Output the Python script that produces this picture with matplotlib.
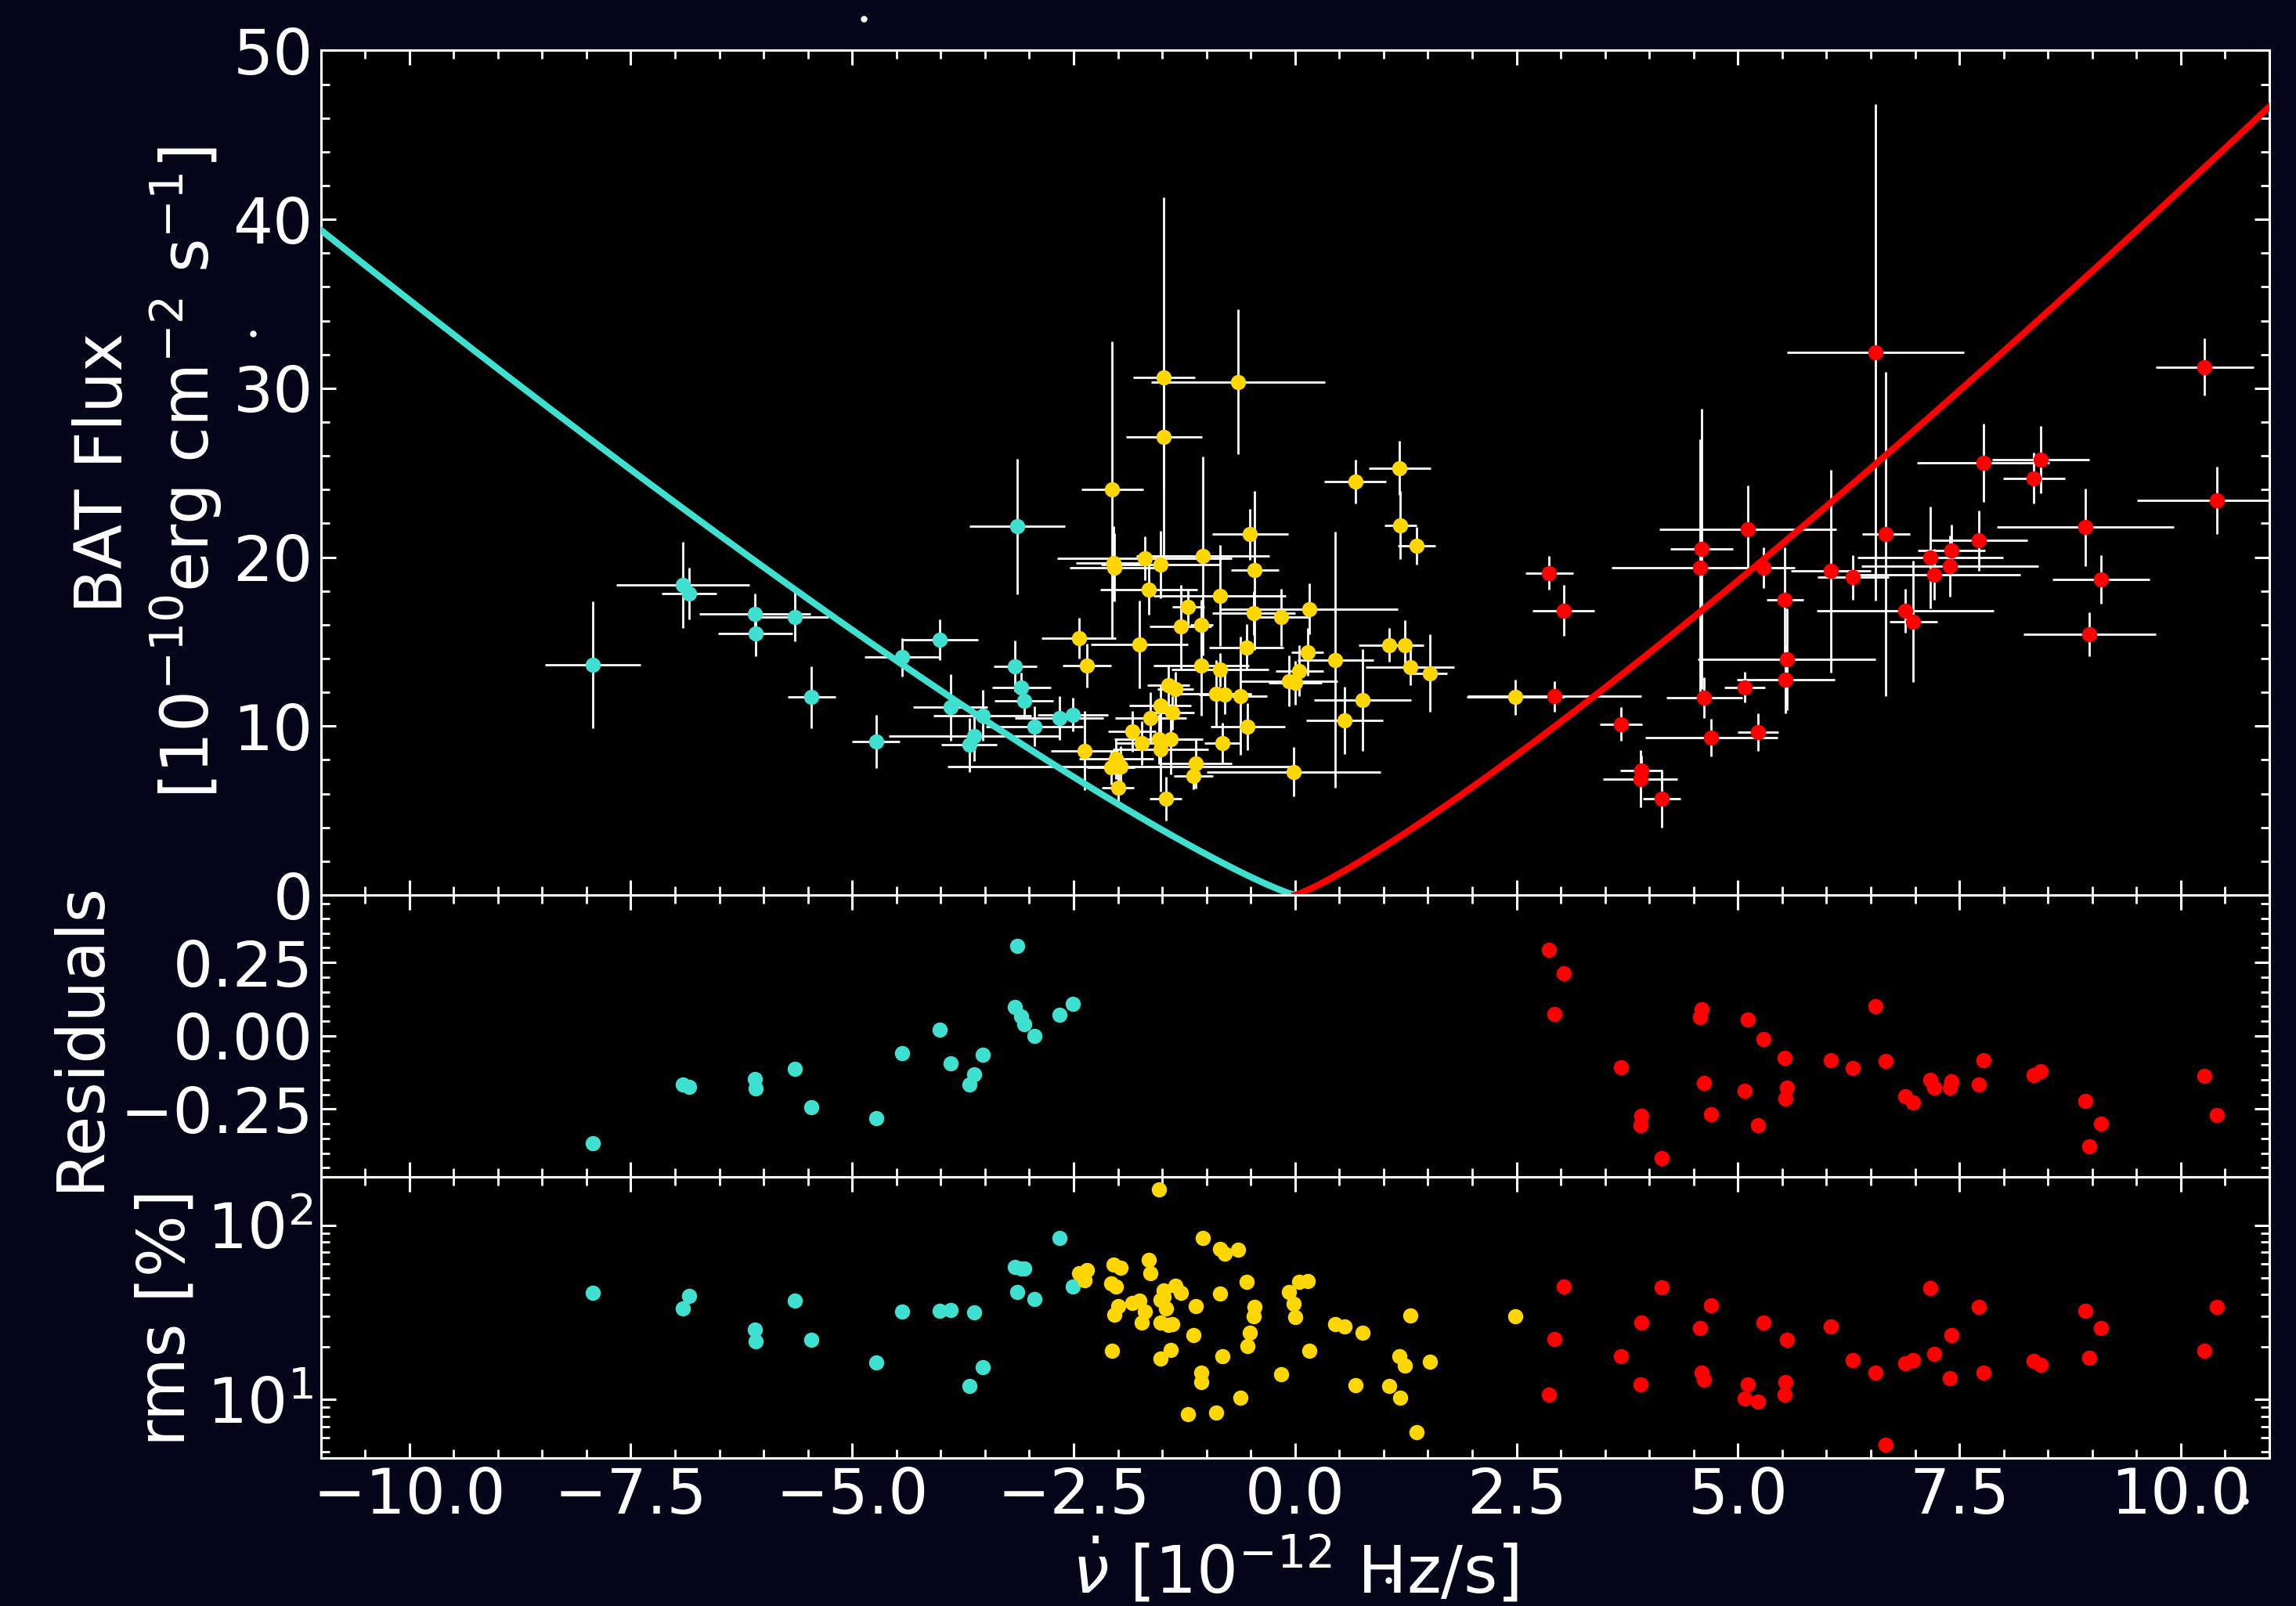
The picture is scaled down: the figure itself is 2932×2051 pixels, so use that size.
import numpy as np
import matplotlib
matplotlib.use('Agg')
import matplotlib.pyplot as plt
from matplotlib.ticker import AutoMinorLocator
from matplotlib.lines import Line2D

# spin-down branch (turquoise)
cyan_x = [-7.93, -6.91, -6.84, -6.10, -6.09, -5.65, -5.46, -4.73, -4.44, -4.01, -3.89,
          -3.68, -3.62, -3.53, -3.14, -3.16, -3.09, -3.06, -2.94, -2.66, -2.51]
cyan_y = [13.62, 18.38, 17.87, 16.65, 15.49, 16.48, 11.72, 9.10, 14.07, 15.12, 11.11,
          8.90, 9.41, 10.63, 21.82, 13.55, 12.27, 11.48, 9.99, 10.46, 10.67]
cyan_xerr = [0.54, 0.75, 0.31, 0.63, 0.42, 0.38, 0.27, 0.27, 0.42, 0.43, 0.42,
             0.31, 0.97, 0.55, 0.54, 0.24, 0.33, 0.33, 0.55, 0.50, 0.40]
cyan_yerr = [3.75, 2.55, 1.53, 1.20, 1.36, 1.45, 1.84, 1.58, 1.12, 1.19, 1.96,
             1.60, 1.50, 1.50, 4.00, 1.50, 0.90, 1.00, 1.20, 1.30, 1.00]
cyan_res = [-0.367, -0.167, -0.175, -0.147, -0.180, -0.114, -0.244, -0.280, -0.060, 0.022, -0.095,
            -0.165, -0.132, -0.065, 0.306, 0.098, 0.065, 0.040, 0.000, 0.071, 0.108]
cyan_rms = [40.8, 33.2, 39.2, 25.2, 21.6, 36.8, 22.0, 16.2, 31.8, 32.1, 32.6,
            11.9, 31.5, 15.3, 41.5, 57.7, 56.2, 56.2, 37.7, 84.5, 44.4]

# transition region (gold)
gold_x = [-1.48, -0.645, -1.48, -2.065, 0.68, 1.18, 1.19, 1.37, -0.507, -1.70,
          -2.05, -2.04, -1.52, -1.04, -0.455, -1.65, -0.85, -1.205, -0.465, -0.16,
          0.157, -1.29, -1.055, -2.44, -1.756, -0.55, 0.14, 0.457, 1.065, 1.24,
          1.30, 1.52, -2.35, -1.06, -0.845, 0.05, -1.43, -1.35, -0.07, 0.0,
          -0.895, -0.79, -0.62, 0.76, 0.56, -1.52, -1.63, -1.39, -1.84, -0.536,
          -2.38, -2.02, -2.08, -1.97, -2.0, -1.73, -1.54, -1.40, -1.52, -1.46,
          -1.117, -1.148, -0.82, -0.017, 2.49]
gold_y = [30.62, 30.38, 27.12, 23.99, 24.48, 25.28, 21.90, 20.68, 21.36, 19.93,
          19.65, 19.40, 19.55, 20.08, 19.23, 18.10, 17.72, 17.04, 16.70, 16.44,
          16.93, 15.88, 15.98, 15.21, 14.84, 14.67, 14.39, 13.93, 14.81, 14.79,
          13.51, 13.14, 13.60, 13.60, 13.34, 13.27, 12.41, 12.21, 12.67, 12.58,
          11.93, 11.89, 11.78, 11.54, 10.34, 11.20, 10.50, 10.78, 9.70, 9.97,
          8.55, 8.08, 7.54, 7.60, 6.34, 8.99, 9.22, 9.22, 8.62, 5.72,
          7.79, 7.07, 9.00, 7.28, 11.72]
gold_xerr = [0.35, 0.98, 0.43, 0.35, 0.35, 0.35, 0.18, 0.21, 0.43, 0.99,
             0.42, 0.50, 0.67, 0.75, 0.27, 0.55, 0.75, 0.18, 0.47, 0.31,
             1.00, 0.35, 0.13, 0.42, 0.55, 0.42, 0.18, 0.43, 0.35, 0.21,
             0.50, 0.20, 0.27, 0.54, 0.55, 0.27, 0.24, 0.20, 0.55, 0.30,
             0.40, 0.30, 0.30, 0.55, 0.43, 0.35, 0.40, 0.25, 0.27, 0.42,
             0.38, 0.42, 0.27, 1.95, 0.18, 0.30, 0.50, 0.30, 0.54, 0.18,
             0.40, 0.22, 0.20, 0.98, 0.55]
gold_yerr = [10.7, 4.3, 3.0, 8.8, 1.3, 1.6, 2.0, 1.1, 1.5, 1.3,
             2.2, 2.0, 2.0, 5.9, 4.7, 1.5, 3.0, 1.1, 1.3, 1.7,
             1.5, 2.5, 1.5, 1.2, 2.6, 1.35, 1.4, 7.6, 1.0, 1.5,
             1.1, 2.3, 1.3, 3.0, 1.0, 1.5, 1.2, 1.0, 1.5, 1.3,
             2.0, 1.2, 3.5, 3.0, 2.0, 1.2, 1.5, 1.0, 1.2, 1.4,
             2.35, 1.2, 1.0, 1.2, 1.0, 1.3, 1.5, 2.1, 2.5, 1.3,
             1.5, 0.83, 1.2, 1.46, 1.05]
gold_rms = [38.7, 72.6, 42.3, 19.1, 12.1, 17.7, 10.2, 6.5, 24.1, 31.8,
            59.5, 30.5, 17.2, 84.5, 33.8, 63.0, 73.3, 8.2, 29.9, 13.9,
            19.0, 40.8, 14.3, 52.8, 36.8, 47.3, 48.0, 27.0, 11.9, 15.6,
            30.3, 16.5, 55.3, 12.6, 40.5, 47.3, 26.8, 44.8, 41.5, 29.6,
            8.4, 68.4, 10.2, 24.2, 26.1, 27.7, 53.2, 27.1, 35.8, 20.2,
            48.5, 44.2, 46.3, 57.0, 34.4, 27.7, 160.0, 19.3, 37.4, 33.2,
            34.4, 23.3, 17.7, 35.2, 30.1]

# spin-up branch (red)
red_x = [2.87, 3.03, 2.93, 3.68, 3.91, 3.90, 4.14, 4.59, 4.57, 4.62,
         4.70, 5.11, 5.08, 5.23, 5.29, 5.53, 5.55, 5.54, 6.05, 6.30,
         6.55, 6.67, 6.89, 6.98, 7.17, 7.22, 7.41, 7.39, 7.72, 7.77,
         8.34, 8.42, 8.92, 9.10, 8.97, 10.27, 10.41]
red_y = [19.06, 16.85, 11.76, 10.12, 7.37, 6.87, 5.69, 20.49, 19.39, 11.69,
         9.32, 21.63, 12.29, 9.64, 19.38, 17.49, 13.96, 12.77, 19.18, 18.80,
         32.11, 21.36, 16.84, 16.20, 19.99, 18.97, 20.42, 19.46, 20.98, 25.59,
         24.67, 25.76, 21.77, 18.69, 15.42, 31.26, 23.35]
red_xerr = [0.27, 0.35, 0.98, 0.24, 0.24, 0.42, 0.21, 0.35, 1.00, 0.43,
            0.75, 1.00, 0.23, 0.23, 0.35, 0.21, 1.00, 0.55, 0.45, 0.40,
            1.00, 0.27, 1.00, 0.27, 0.82, 0.97, 0.38, 1.00, 0.55, 0.75,
            0.35, 0.55, 1.00, 0.55, 0.75, 0.55, 0.90]
red_yerr = [1.0, 1.5, 0.9, 1.0, 0.9, 1.7, 1.7, 8.3, 7.6, 1.2,
            1.1, 2.6, 0.9, 1.1, 1.2, 3.1, 3.0, 2.0, 6.0, 1.3,
            14.7, 9.6, 1.3, 3.6, 3.0, 1.5, 1.5, 1.8, 1.8, 2.3,
            1.5, 2.0, 2.3, 1.45, 1.3, 1.7, 2.0]
red_res = [0.294, 0.212, 0.074, -0.108, -0.274, -0.304, -0.416, 0.089, 0.064, -0.160,
           -0.267, 0.056, -0.187, -0.305, -0.010, -0.076, -0.176, -0.215, -0.082, -0.111,
           0.101, -0.085, -0.205, -0.228, -0.150, -0.176, -0.156, -0.178, -0.166, -0.083,
           -0.135, -0.122, -0.223, -0.300, -0.376, -0.138, -0.271]
red_rms = [10.6, 44.5, 22.3, 17.7, 27.5, 12.2, 44.1, 14.3, 25.7, 12.9,
           34.8, 12.2, 10.1, 9.7, 27.5, 10.6, 22.0, 12.6, 26.2, 16.8,
           14.2, 5.5, 16.1, 16.8, 43.3, 18.3, 23.3, 13.3, 34.0, 14.2,
           16.7, 15.8, 32.1, 25.6, 17.3, 19.0, 34.0]

# torque model F = k |nudot|^(7/6)
k_down, k_up, expo = 2.40, 2.845, 7.0 / 6.0

bg = '#05051a'
c_cyan, c_gold, c_red = '#40E0D0', '#FFD700', '#FF0000'

plt.rcParams['font.size'] = 30
plt.rcParams['text.color'] = 'white'
plt.rcParams['axes.labelcolor'] = 'white'

fig = plt.figure(figsize=(14.66, 10.255), dpi=200, facecolor=bg)
gs = fig.add_gridspec(3, 1, height_ratios=[3, 1, 1], hspace=0,
                      left=0.1397, right=0.9884, top=0.9686, bottom=0.0921)
ax0 = fig.add_subplot(gs[0])
ax1 = fig.add_subplot(gs[1], sharex=ax0)
ax2 = fig.add_subplot(gs[2], sharex=ax0)

for ax in (ax0, ax1, ax2):
    ax.set_facecolor('black')
    for s in ax.spines.values():
        s.set_color('white')
        s.set_linewidth(1.1)
    ax.tick_params(which='both', direction='in', top=True, right=True,
                   colors='white', labelsize=29)
    ax.tick_params(which='major', length=7, width=1.1)
    ax.tick_params(which='minor', length=4, width=1.0)
    ax.xaxis.set_minor_locator(AutoMinorLocator())

# top panel: flux vs nudot
for xs, ys, xe, ye in [(cyan_x, cyan_y, cyan_xerr, cyan_yerr),
                       (gold_x, gold_y, gold_xerr, gold_yerr),
                       (red_x, red_y, red_xerr, red_yerr)]:
    ax0.errorbar(xs, ys, xerr=xe, yerr=ye, fmt='none', ecolor='white',
                 elinewidth=1.0, capsize=0, zorder=2)
ax0.plot(cyan_x, cyan_y, 'o', color=c_cyan, ms=6, zorder=3)
ax0.plot(gold_x, gold_y, 'o', color=c_gold, ms=6, zorder=3)
ax0.plot(red_x, red_y, 'o', color=c_red, ms=6, zorder=3)

nd_down = np.linspace(-11, 0, 300)
nd_up = np.linspace(0, 11, 300)
ax0.plot(nd_down, k_down * np.abs(nd_down) ** expo, color=c_cyan, lw=3, zorder=4)
ax0.plot(nd_up, k_up * nd_up ** expo, color=c_red, lw=3, zorder=4)

ax0.set_xlim(-11, 11)
ax0.set_ylim(0, 50)
ax0.yaxis.set_minor_locator(AutoMinorLocator())
ax0.set_ylabel('BAT Flux\n[$10^{-10}$erg cm$^{-2}$ s$^{-1}$]')
plt.setp(ax0.get_xticklabels(), visible=False)

# residuals
ax1.plot(cyan_x, cyan_res, 'o', color=c_cyan, ms=6)
ax1.plot(red_x, red_res, 'o', color=c_red, ms=6)
ax1.set_ylim(-0.48, 0.48)
ax1.set_yticks([-0.25, 0.0, 0.25])
ax1.yaxis.set_minor_locator(AutoMinorLocator())
ax1.set_ylabel('Residuals')
plt.setp(ax1.get_xticklabels(), visible=False)

# rms
ax2.plot(cyan_x, cyan_rms, 'o', color=c_cyan, ms=6)
ax2.plot(gold_x, gold_rms, 'o', color=c_gold, ms=6)
ax2.plot(red_x, red_rms, 'o', color=c_red, ms=6)
ax2.set_yscale('log')
ax2.set_ylim(4.6, 190)
ax2.set_ylabel('rms [%]')
ax2.set_xlabel(r'$\dot{\nu}$ [$10^{-12}$ Hz/s]')
ax2.set_xticks([-10, -7.5, -5, -2.5, 0, 2.5, 5, 7.5, 10])
ax2.set_xticklabels(['\u221210.0', '\u22127.5', '\u22125.0', '\u22122.5', '0.0',
                     '2.5', '5.0', '7.5', '10.0'])

# stray specks visible in the original
for fx, fy in [(0.3763, 0.9883), (0.1103, 0.7923), (0.9777, 0.0655), (0.6046, 0.0163)]:
    fig.add_artist(Line2D([fx], [fy], marker='o', ms=2, color='white',
                          transform=fig.transFigure))

fig.savefig('out.png', dpi=200, facecolor=bg)
